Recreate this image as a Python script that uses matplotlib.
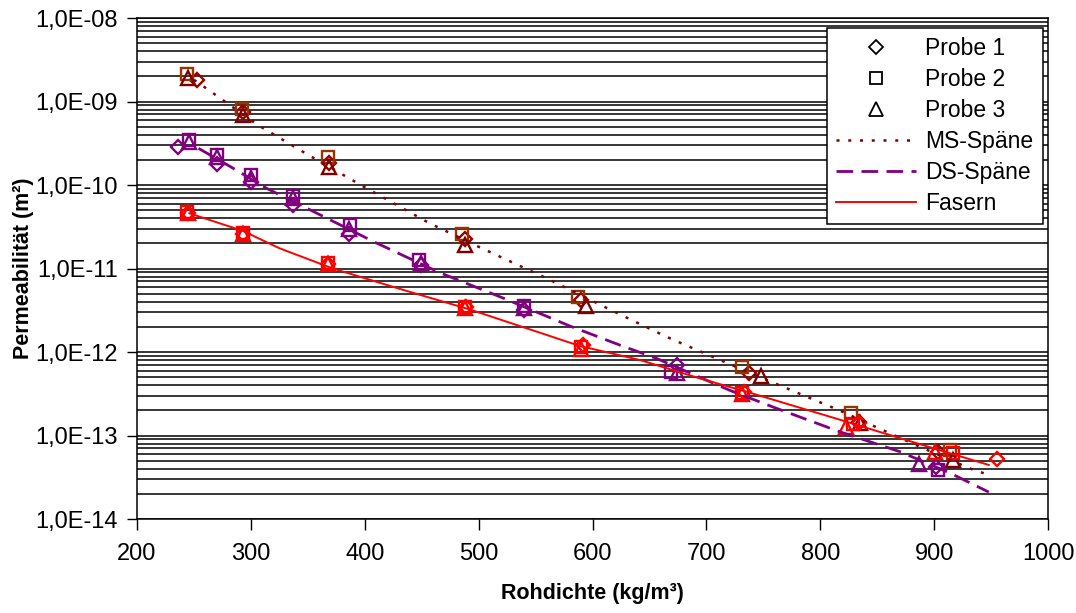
import numpy as np
import matplotlib
matplotlib.use('Agg')
import matplotlib.pyplot as plt
from matplotlib.lines import Line2D
from matplotlib.ticker import FixedLocator, FuncFormatter, NullLocator

plt.rcParams['font.family'] = ['Liberation Sans', 'DejaVu Sans']

# measured points (Rohdichte kg/m3, Permeabilitaet m2)
ms_x_p1 = [253, 293, 369, 488, 590, 737, 834, 903]
ms_y_p1 = [1.8e-9, 7.5e-10, 1.85e-10, 2.24e-11, 4.2e-12, 5.6e-13, 1.46e-13, 6.3e-14]
ms_x_p2 = [244, 292, 368, 485, 587, 731, 827, 914]
ms_y_p2 = [2.13e-9, 8.1e-10, 2.18e-10, 2.57e-11, 4.6e-12, 6.6e-13, 1.85e-13, 6.7e-14]
ms_x_p3 = [245, 293, 369, 488, 594, 748, 835, 917]
ms_y_p3 = [1.9e-9, 6.9e-10, 1.66e-10, 1.9e-11, 3.56e-12, 5.1e-13, 1.4e-13, 5.1e-14]

ds_x_p1 = [236, 270, 300, 337, 386, 449, 540, 674, 902]
ds_y_p1 = [2.88e-10, 1.78e-10, 1.1e-10, 5.75e-11, 2.6e-11, 1.1e-11, 3.2e-12, 7.0e-13, 4.2e-14]
ds_x_p2 = [246, 270, 300, 337, 387, 448, 540, 669, 903]
ds_y_p2 = [3.46e-10, 2.29e-10, 1.32e-10, 7.4e-11, 3.3e-11, 1.26e-11, 3.56e-12, 5.8e-13, 3.9e-14]
ds_x_p3 = [246, 270, 300, 337, 386, 449, 540, 674, 887]
ds_y_p3 = [3.3e-10, 2.19e-10, 1.2e-10, 6.9e-11, 3.0e-11, 1.15e-11, 3.4e-12, 5.66e-13, 4.5e-14]

fa_x_p1 = [245, 293, 368, 489, 592, 733, 834, 955]
fa_y_p1 = [4.6e-11, 2.6e-11, 1.12e-11, 3.5e-12, 1.2e-12, 3.3e-13, 1.4e-13, 5.3e-14]
fa_x_p2 = [244, 293, 368, 488, 590, 731, 829, 917]
fa_y_p2 = [4.8e-11, 2.64e-11, 1.15e-11, 3.5e-12, 1.16e-12, 3.2e-13, 1.37e-13, 6.2e-14]
fa_x_p3 = [245, 293, 368, 488, 590, 731, 823, 901]
fa_y_p3 = [4.6e-11, 2.6e-11, 1.12e-11, 3.4e-12, 1.1e-12, 3.1e-13, 1.27e-13, 6.4e-14]

# fit curves
ms_fit_x = [250, 263, 306, 349, 400, 457, 500, 560, 615, 665, 715, 767, 816, 882, 931, 948]
ms_fit_y = [1.82e-9, 1.37e-9, 5.24e-10, 2.35e-10, 9.4e-11, 3.48e-11, 1.82e-11, 7.6e-12,
            3.24e-12, 1.52e-12, 7.7e-13, 3.85e-13, 2.02e-13, 7.9e-14, 4.05e-14, 3.37e-14]
ds_fit_x = [254, 282, 314, 361, 408, 466, 522, 580, 624, 656, 720, 759, 817, 870, 914, 948]
ds_fit_y = [2.75e-10, 1.66e-10, 9.1e-11, 4.38e-11, 2.09e-11, 8.9e-12, 4.4e-12, 2.05e-12,
            1.21e-12, 8.4e-13, 3.5e-13, 2.18e-13, 1.11e-13, 6.4e-14, 3.55e-14, 2.1e-14]
fa_fit_x = [246, 293, 325, 372, 434, 492, 589, 642, 694, 738, 817, 870, 948]
fa_fit_y = [4.58e-11, 2.82e-11, 1.75e-11, 1.0e-11, 5.53e-12, 3.24e-12, 1.18e-12, 8.0e-13,
            4.84e-13, 3.26e-13, 1.55e-13, 9.3e-14, 4.44e-14]

x_ticks = [200, 300, 400, 500, 600, 700, 800, 900, 1000]
y_decades = [1e-14, 1e-13, 1e-12, 1e-11, 1e-10, 1e-9, 1e-8]

fig = plt.figure(figsize=(10.76, 6.13), dpi=100)
ax = fig.add_axes([137/1076, 1 - 519/613, 911/1076, 501/613])

ax.set_yscale('log')
ax.set_xlim(200, 1000)
ax.set_ylim(1e-14, 1e-8)

# horizontal gridlines at every 1..9 of each decade
grid_vals = [m * d for d in y_decades[:-1] for m in range(1, 10)] + [1e-8]
for g in grid_vals:
    ax.axhline(g, color='#000000', lw=1.1, zorder=1)

ms_kw = dict(ls='none', mfc='none', mew=1.7, zorder=3)
ax.plot(ms_x_p1, ms_y_p1, marker='D', ms=7, mec='#990000', **ms_kw)
ax.plot(ms_x_p2, ms_y_p2, marker='s', ms=9, mec='#993300', **ms_kw)
ax.plot(ms_x_p3, ms_y_p3, marker='^', ms=9.5, mec='#800000', **ms_kw)
ax.plot(ds_x_p1, ds_y_p1, marker='D', ms=7, mec='#800080', **ms_kw)
ax.plot(ds_x_p2, ds_y_p2, marker='s', ms=9, mec='#800080', **ms_kw)
ax.plot(ds_x_p3, ds_y_p3, marker='^', ms=9.5, mec='#800080', **ms_kw)
ax.plot(fa_x_p1, fa_y_p1, marker='D', ms=7, mec='#FF0000', **ms_kw)
ax.plot(fa_x_p2, fa_y_p2, marker='s', ms=9, mec='#FF0000', **ms_kw)
ax.plot(fa_x_p3, fa_y_p3, marker='^', ms=9.5, mec='#FF0000', **ms_kw)

ax.plot(ms_fit_x, ms_fit_y, color='#800000', lw=1.8, ls=(0, (1.2, 3.5)), zorder=4)
ax.plot(ds_fit_x, ds_fit_y, color='#800080', lw=2.0, ls=(0, (6, 3)), zorder=4)
ax.plot(fa_fit_x, fa_fit_y, color='#FF0000', lw=1.4, zorder=4)

def fmt(v, pos):
    e = int(round(np.log10(v)))
    return '1,0E-%02d' % abs(e)

ax.yaxis.set_major_locator(FixedLocator(y_decades))
ax.yaxis.set_minor_locator(NullLocator())
ax.yaxis.set_major_formatter(FuncFormatter(fmt))
ax.xaxis.set_major_locator(FixedLocator(x_ticks))
ax.tick_params(axis='y', direction='out', length=7, width=1, pad=7, labelsize=17)
ax.tick_params(axis='x', direction='out', length=8, width=1, pad=9, labelsize=17)

for s in ax.spines.values():
    s.set_color('#000000')
    s.set_linewidth(1.1)

ax.set_xlabel('Rohdichte (kg/m³)', fontsize=15.5, fontweight='bold', labelpad=13)
ax.set_ylabel('Permeabilität (m²)', fontsize=15.5, fontweight='bold', labelpad=1)

handles = [
    Line2D([], [], ls='none', marker='D', ms=7, mfc='none', mec='black', mew=1.3),
    Line2D([], [], ls='none', marker='s', ms=9, mfc='none', mec='black', mew=1.3),
    Line2D([], [], ls='none', marker='^', ms=9.5, mfc='none', mec='black', mew=1.3),
    Line2D([], [], color='#800000', lw=1.8, ls=(0, (1.2, 3.5))),
    Line2D([], [], color='#800080', lw=2.0, ls=(0, (6, 3))),
    Line2D([], [], color='#FF0000', lw=1.4),
]
labels = ['Probe 1', 'Probe 2', 'Probe 3', 'MS-Späne', 'DS-Späne', 'Fasern']
leg = ax.legend(handles, labels, loc='upper right', bbox_to_anchor=(1042.7/1076, 1 - 28/613),
                bbox_transform=fig.transFigure, borderaxespad=0, fontsize=16.5,
                frameon=True, fancybox=False, framealpha=1, edgecolor='black',
                handlelength=3.5, handletextpad=0.4, labelspacing=0.35, borderpad=0.4)
leg.get_frame().set_linewidth(1.1)
leg.set_zorder(10)

fig.savefig('out.png', dpi=100)
